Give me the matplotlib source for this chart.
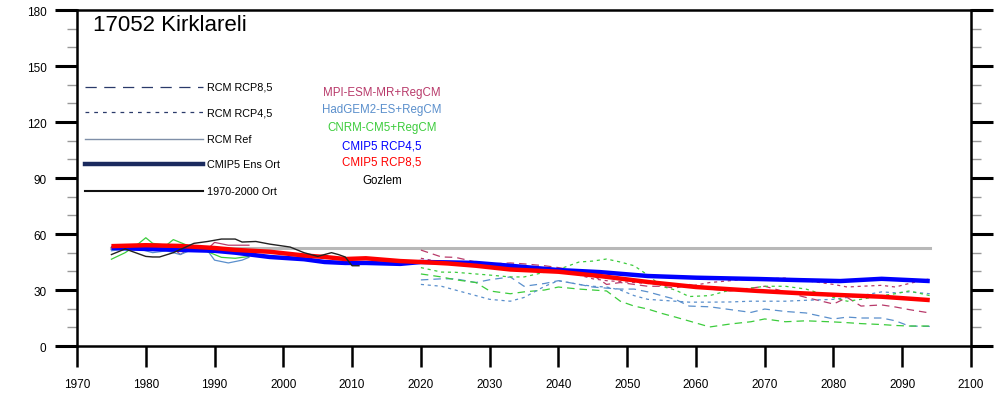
import numpy as np
import matplotlib
matplotlib.use("Agg")
from matplotlib import pyplot as plt

plt.rcParams['font.family'] = ['Liberation Sans', 'DejaVu Sans']

# %% veriler
title = "17052 Kirklareli"

ref_mean = 52.5  # 1970-2000 ortalamasi
ref_mean_years = [1975, 2094]

obs_years = [1975, 1977, 1980, 1981, 1982, 1984, 1987, 1989, 1991, 1993, 1994,
             1996, 1998, 2001, 2003, 2005, 2007, 2008, 2009, 2010, 2011]
obs_vals = [49, 52, 48, 47.7, 47.7, 50, 55, 56, 57.3, 57.3, 55.7,
            56, 54.6, 53, 50, 48, 50, 49, 47.7, 43, 43]

mpi_ref_years = [1975, 1977, 1979, 1981, 1983, 1984, 1985, 1987, 1989, 1990, 1992, 1995]
mpi_ref_vals = [53, 52, 53, 52, 52, 52.5, 49, 53.5, 52, 55.5, 54, 54]
had_ref_years = [1975, 1977, 1979, 1981, 1983, 1985, 1987, 1989, 1990, 1992, 1994, 1995]
had_ref_vals = [51, 52, 52, 50, 51, 49, 52, 51, 46, 44.5, 46, 47.5]
cnrm_ref_years = [1975, 1977, 1979, 1980, 1981, 1983, 1984, 1986, 1988, 1990, 1991, 1993, 1995]
cnrm_ref_vals = [46.5, 50, 55, 58, 55, 54, 57, 54, 52, 49, 47.5, 47, 48]

cmip_years = [1975, 1980, 1985, 1990, 1993, 1998, 2003, 2006, 2009, 2012, 2017,
              2020, 2024, 2028, 2033, 2040, 2046, 2053, 2060, 2065, 2069, 2075,
              2081, 2087, 2094]
cmip45_vals = [52.5, 52, 51.5, 51, 50, 47.7, 46.5, 45, 44.5, 44.5, 44,
               45, 44.8, 44.5, 43, 40.7, 39.6, 37.5, 36.6, 36.2, 35.9, 35.3,
               34.8, 36, 34.8]
cmip85_vals = [53.5, 54, 53.6, 52.5, 51.5, 50.5, 48.5, 47.7, 46.6, 47, 45.5,
               45, 44.2, 43, 41, 39.8, 37.5, 34.3, 31.6, 30.4, 29.5, 28.3,
               27.3, 26.4, 24.6]

proj_years = [2020, 2023, 2025, 2028, 2030, 2033, 2035, 2038, 2040, 2043, 2045,
              2047, 2049, 2051, 2053, 2055, 2057, 2059, 2062, 2065, 2068, 2070,
              2073, 2076, 2080, 2082, 2084, 2087, 2089, 2091, 2094]
mpi85_vals = [51.4, 47.7, 47.5, 45, 44, 44.5, 44, 43, 42, 40, 38,
              33, 34, 33, 32, 32, 31, 33, 30.5, 29.5, 31, 32,
              29, 26, 22.5, 26, 21.4, 22, 20.9, 19.5, 17.7]
mpi45_vals = [47, 45, 44, 43, 42, 42.5, 42, 41, 40, 38, 36,
              35, 34.5, 34, 33.5, 33, 32.5, 32, 34, 35, 36, 36,
              36.4, 35, 33, 31.6, 32, 32.5, 31.6, 33.5, 36]
had85_vals = [35.4, 36, 36, 34, 35.5, 37, 32, 33.5, 35, 33, 31.6,
              31, 30.5, 30.5, 29, 27, 25, 21.4, 21, 19.5, 18, 19.8,
              18.5, 17.7, 14.5, 15.5, 15, 15, 13.5, 10.7, 10.5]
had45_vals = [33, 32, 30, 27, 25, 24, 26, 32, 35, 33, 32,
              31.6, 30, 27, 25, 24.5, 24, 23.5, 23.5, 23.6, 24, 24,
              24, 24.5, 25, 26, 27, 29, 28.5, 29, 28]
cnrm85_vals = [38.6, 37, 35.5, 34, 29.5, 28, 29, 30, 31.6, 30.5, 30,
               29.5, 24, 21.4, 19.8, 17.5, 15.5, 13.4, 10.2, 11.8, 13, 14.5,
               13, 13.5, 12.9, 12.5, 12, 11.5, 11, 10.7, 10.7]
cnrm45_vals = [42, 39.6, 39.5, 38.6, 38, 37, 37, 39.5, 41, 45, 45.5,
               46.6, 45, 43, 38, 32, 30, 26.5, 27, 30, 31, 32,
               32, 30.5, 26, 24, 25, 27, 28, 29.5, 27]

col_mpi = '#b83a6a'
col_had = '#5a8fcc'
col_cnrm = '#3ccc3c'
long_dash = (6, 4)
short_dash = (2.5, 3)

# %% cizim
fig = plt.figure(figsize=(9.94, 4.02), dpi=100)
ax = fig.add_axes([0.0775, 0.1368, 0.8994, 0.8358])

ax.plot(ref_mean_years, [ref_mean, ref_mean], color='#b8b8b8', lw=2.2)

for yrs, vals, col in [(mpi_ref_years, mpi_ref_vals, col_mpi),
                       (had_ref_years, had_ref_vals, col_had),
                       (cnrm_ref_years, cnrm_ref_vals, col_cnrm)]:
    ax.plot(yrs, vals, color=col, lw=0.9)

for vals, col in [(mpi85_vals, col_mpi), (had85_vals, col_had),
                  (cnrm85_vals, col_cnrm)]:
    ax.plot(proj_years, vals, color=col, lw=0.9, dashes=long_dash)
for vals, col in [(mpi45_vals, col_mpi), (had45_vals, col_had),
                  (cnrm45_vals, col_cnrm)]:
    ax.plot(proj_years, vals, color=col, lw=0.9, dashes=short_dash)

ax.plot(cmip_years, cmip45_vals, color='#0000ff', lw=3.2, solid_capstyle='butt')
ax.plot(cmip_years, cmip85_vals, color='#ff0000', lw=3.2, solid_capstyle='butt')
ax.plot(obs_years, obs_vals, color='#222222', lw=1.0)

ax.set_xlim(1970, 2100)
ax.set_ylim(0, 180)
ax.set_xticks(np.arange(1970, 2101, 10))
ax.set_yticks(np.arange(0, 181, 30))
ax.set_yticks(np.arange(0, 181, 10), minor=True)
ax.tick_params(axis='x', which='major', direction='out', length=15, width=1.8,
               labelsize=8.5, pad=8)
ax.tick_params(axis='y', which='major', direction='out', length=16, width=2.2,
               labelsize=8.5, pad=6, right=True)
ax.tick_params(axis='y', which='minor', direction='out', length=7, width=1.0,
               color='#999999', right=True)
for s in ax.spines.values():
    s.set_linewidth(1.8)

ax.text(0.018, 0.958, title, transform=ax.transAxes, fontsize=16,
        va='center', ha='left')

# sol lejant
leg_items = [("RCM RCP8,5", dict(color='#2a3a6a', lw=0.9, dashes=(9, 6))),
             ("RCM RCP4,5", dict(color='#2a3a6a', lw=0.9, dashes=(3, 4))),
             ("RCM Ref", dict(color='#7f8fa8', lw=1.0)),
             ("CMIP5 Ens Ort", dict(color='#1a2a5e', lw=3.2)),
             ("1970-2000 Ort", dict(color='#111111', lw=1.5))]
leg_y = [0.771, 0.696, 0.616, 0.542, 0.461]
for (lab, kw), yy in zip(leg_items, leg_y):
    ax.plot([0.009, 0.141], [yy, yy], transform=ax.transAxes, **kw)
    ax.text(0.145, yy, lab, transform=ax.transAxes, fontsize=7.8, va='center',
            ha='left')

# orta lejant
mid_labels = ["MPI-ESM-MR+RegCM", "HadGEM2-ES+RegCM", "CNRM-CM5+RegCM",
              "CMIP5 RCP4,5", "CMIP5 RCP8,5", "Gozlem"]
mid_colors = [col_mpi, col_had, col_cnrm, '#0000ff', '#ff0000', '#000000']
mid_y = [0.756, 0.705, 0.652, 0.598, 0.548, 0.494]
for lab, col, yy in zip(mid_labels, mid_colors, mid_y):
    ax.text(0.341, yy, lab, transform=ax.transAxes, fontsize=8.3, color=col,
            va='center', ha='center')

fig.savefig("out.png", dpi=100)
